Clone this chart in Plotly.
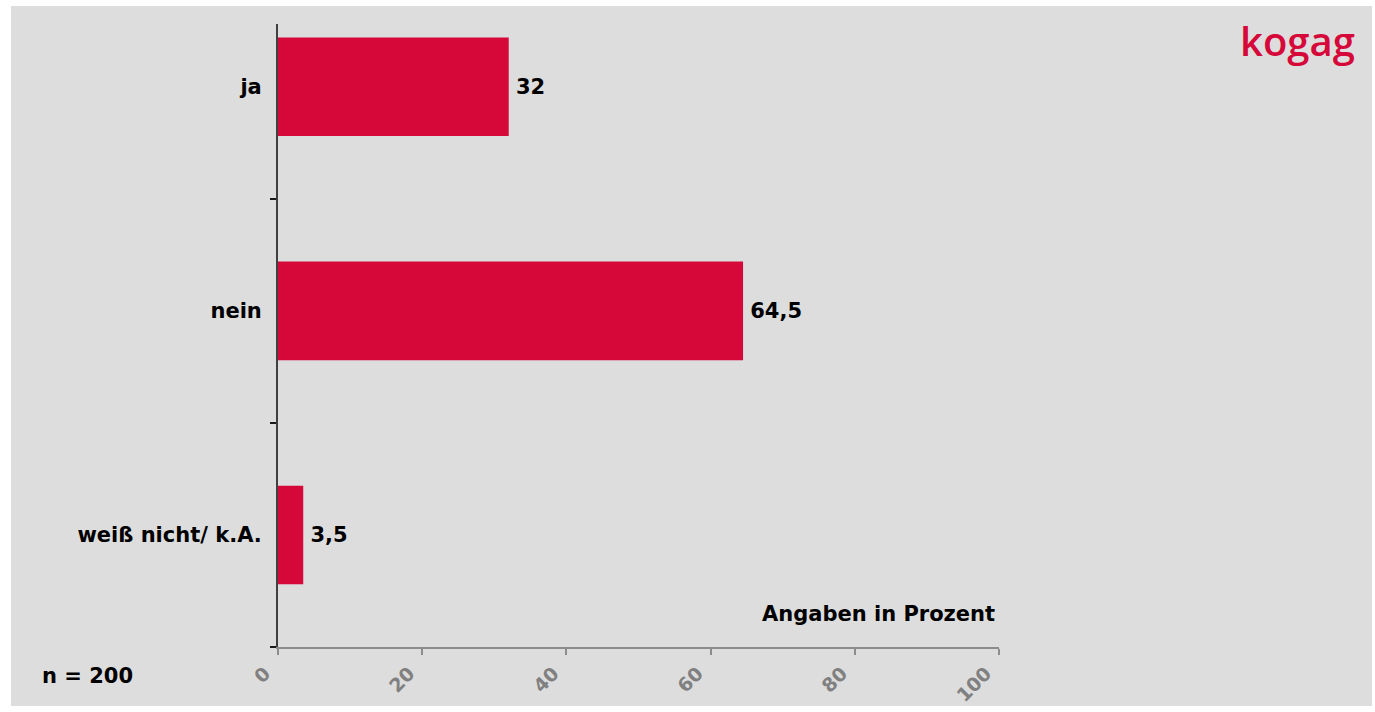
import plotly.graph_objects as go

# Survey answers (percent of respondents)
categories = ["weiß nicht/ k.A.", "nein", "ja"]
values = [3.5, 64.5, 32]
x_ticks = [0, 20, 40, 60, 80, 100]
sample_note = "n = 200"
unit_note = "Angaben in Prozent"
brand = "kogag"

RED = "#D60739"
BG = "#DDDDDD"
FONT = "DejaVu Sans"

W, H = 1375, 712
L, R, T, B = 278, 376, 24, 65
PW, PH = W - L - R, H - T - B


def px_x(p):
    return (p - L) / PW


def px_y(p):
    return (H - B - p) / PH


fig = go.Figure(
    go.Bar(
        x=values,
        y=categories,
        orientation="h",
        width=0.44,
        marker=dict(color=RED, line=dict(width=0)),
        texttemplate="\u2009%{x}",
        textposition="outside",
        textfont=dict(family=FONT, size=21, color="#000000", weight="bold"),
        cliponaxis=False,
        hoverinfo="skip",
    )
)

fig.update_layout(
    width=W,
    height=H,
    autosize=False,
    margin=dict(l=L, r=R, t=T, b=B, pad=0, autoexpand=False),
    paper_bgcolor="#FFFFFF",
    plot_bgcolor=BG,
    separators=",.",
    showlegend=False,
    font=dict(family=FONT),
    shapes=[
        dict(
            type="rect",
            xref="paper",
            yref="paper",
            x0=px_x(11),
            x1=px_x(1372),
            y0=px_y(706),
            y1=px_y(6),
            fillcolor=BG,
            line=dict(width=0),
            layer="below",
        )
    ],
    annotations=[
        dict(
            text=unit_note,
            xref="paper",
            yref="paper",
            x=px_x(997),
            y=px_y(614),
            xanchor="right",
            yanchor="middle",
            showarrow=False,
            font=dict(family=FONT, size=21, color="#000000", weight="bold"),
        ),
        dict(
            text=sample_note,
            xref="paper",
            yref="paper",
            x=px_x(40),
            y=px_y(676),
            xanchor="left",
            yanchor="middle",
            showarrow=False,
            font=dict(family=FONT, size=21, color="#000000", weight="bold"),
        ),
        dict(
            text=brand,
            xref="paper",
            yref="paper",
            x=px_x(1297),
            y=px_y(40),
            xanchor="center",
            yanchor="middle",
            showarrow=False,
            font=dict(family="Open Sans", size=40, color=RED, weight=600),
        ),
    ],
)

fig.update_xaxes(
    range=[0, 100],
    tickvals=x_ticks,
    ticktext=[str(t) for t in x_ticks],
    tickangle=-45,
    ticks="outside",
    ticklen=6,
    tickwidth=2,
    tickcolor="#8C8C8C",
    ticklabelstandoff=0,
    ticklabelshift=-13,
    tickfont=dict(family=FONT, size=19, color="#808080", weight="bold"),
    showline=True,
    linecolor="#8C8C8C",
    linewidth=2,
    showgrid=False,
    zeroline=False,
    automargin=False,
    fixedrange=True,
)

fig.update_yaxes(
    type="category",
    categoryorder="array",
    categoryarray=categories,
    range=[-0.5, 2.28],
    tickson="boundaries",
    ticks="outside",
    ticklen=6,
    tickwidth=2,
    tickcolor="#1A1A1A",
    ticklabelstandoff=10,
    tickfont=dict(family=FONT, size=21, color="#000000", weight="bold"),
    showline=True,
    linecolor="#404040",
    linewidth=2,
    showgrid=False,
    zeroline=False,
    automargin=False,
    fixedrange=True,
)

fig.write_html("out.html", config={"displayModeBar": False})
